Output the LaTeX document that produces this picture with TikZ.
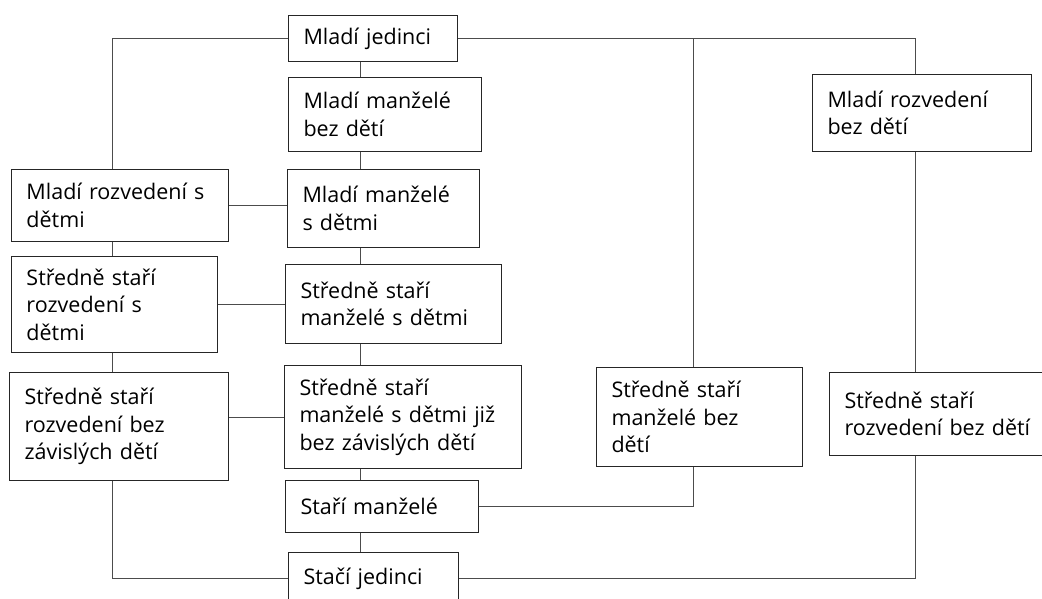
\documentclass[tikz,border=0pt]{standalone}
\usepackage{fontspec}
\setmainfont{Open Sans}
\usepackage{tikz}
\usetikzlibrary{positioning, calc}
\tikzstyle{stage} = [rectangle, draw=black!85, line width=1pt, inner xsep=15pt, inner ysep=0pt, align=left, anchor=north west, font=\fontsize{21.5}{27.5}\selectfont]
\tikzstyle{link} = [draw=black!70, line width=1pt]

\begin{document}
\begin{tikzpicture}[x=1pt, y=1pt]
        \useasboundingbox (0,0) rectangle (1042,-599);
        \clip (0,0) rectangle (1042,-599);

        % trunks
        \coordinate (lt) at (112,0);
        \coordinate (ct) at (360,0);
        \coordinate (mt) at (693,0);
        \coordinate (rt) at (915,0);

        \node[stage, text width=139pt, minimum height=46pt] (mjed) at (288,-15) {Mladí jedinci};
        \node[stage, text width=163pt, minimum height=74pt] (mmbez) at (288,-77) {Mladí manželé\\bez dětí};
        \node[stage, text width=162pt, minimum height=78pt] (mms) at (287,-169) {Mladí manželé\\s dětmi};
        \node[stage, text width=187pt, minimum height=72pt] (mrs) at (11,-169) {Mladí rozvedení s\\dětmi};
        \node[stage, text width=176pt, minimum height=96pt] (ssrs) at (11,-256) {Středně staří\\rozvedení s\\dětmi};
        \node[stage, text width=186pt, minimum height=79pt] (ssms) at (285,-264) {Středně staří\\manželé s dětmi};
        \node[stage, text width=189pt, minimum height=108pt] (ssrbz) at (9,-372) {Středně staří\\rozvedení bez\\závislých dětí};
        \node[stage, text width=207pt, minimum height=103pt] (ssmsj) at (284,-365) {Středně staří\\manželé s dětmi již\\bez závislých dětí};
        \node[stage, text width=163pt, minimum height=52pt] (sm) at (285,-480) {Staří manželé};
        \node[stage, text width=140pt, minimum height=52pt] (sj) at (288,-552) {Stačí jedinci};
        \node[stage, text width=189pt, minimum height=77pt] (mrbez) at (812,-74) {Mladí rozvedení\\bez dětí};
        \node[stage, text width=176pt, minimum height=99pt] (ssmbez) at (596,-367) {Středně staří\\manželé bez\\dětí};
        \node[stage, text width=191pt, minimum height=83pt] (ssrbez) at (829,-372) {Středně staří\\rozvedení bez dětí};

        % left side
        \draw[link] (mjed.west) -| (lt |- mrs.north);
        \draw[link] (lt |- mrs.south) -- (lt |- ssrs.north);
        \draw[link] (lt |- ssrs.south) -- (lt |- ssrbz.north);
        \draw[link] (lt |- ssrbz.south) |- (sj.west);

        % middle column
        \draw[link] (ct |- mjed.south) -- (ct |- mmbez.north);
        \draw[link] (ct |- mmbez.south) -- (ct |- mms.north);
        \draw[link] (ct |- mms.south) -- (ct |- ssms.north);
        \draw[link] (ct |- ssms.south) -- (ct |- ssmsj.north);
        \draw[link] (ct |- ssmsj.south) -- (ct |- sm.north);
        \draw[link] (ct |- sm.south) -- (ct |- sj.north);

        % right side
        \draw[link] (mjed.east) -| (rt |- mrbez.north);
        \draw[link] (mt |- mjed.east) -- (mt |- ssmbez.north);
        \draw[link] (rt |- mrbez.south) -- (rt |- ssrbez.north);
        \draw[link] (rt |- ssrbez.south) |- (sj.east);
        \draw[link] (mt |- ssmbez.south) |- (sm.east);

        % divorces
        \draw[link] (mrs.east) -- (mrs.east -| mms.west);
        \draw[link] (ssrs.east) -- (ssrs.east -| ssms.west);
        \draw[link] (ssmsj.west) -- (ssmsj.west -| ssrbz.east);

\end{tikzpicture}
\end{document}
